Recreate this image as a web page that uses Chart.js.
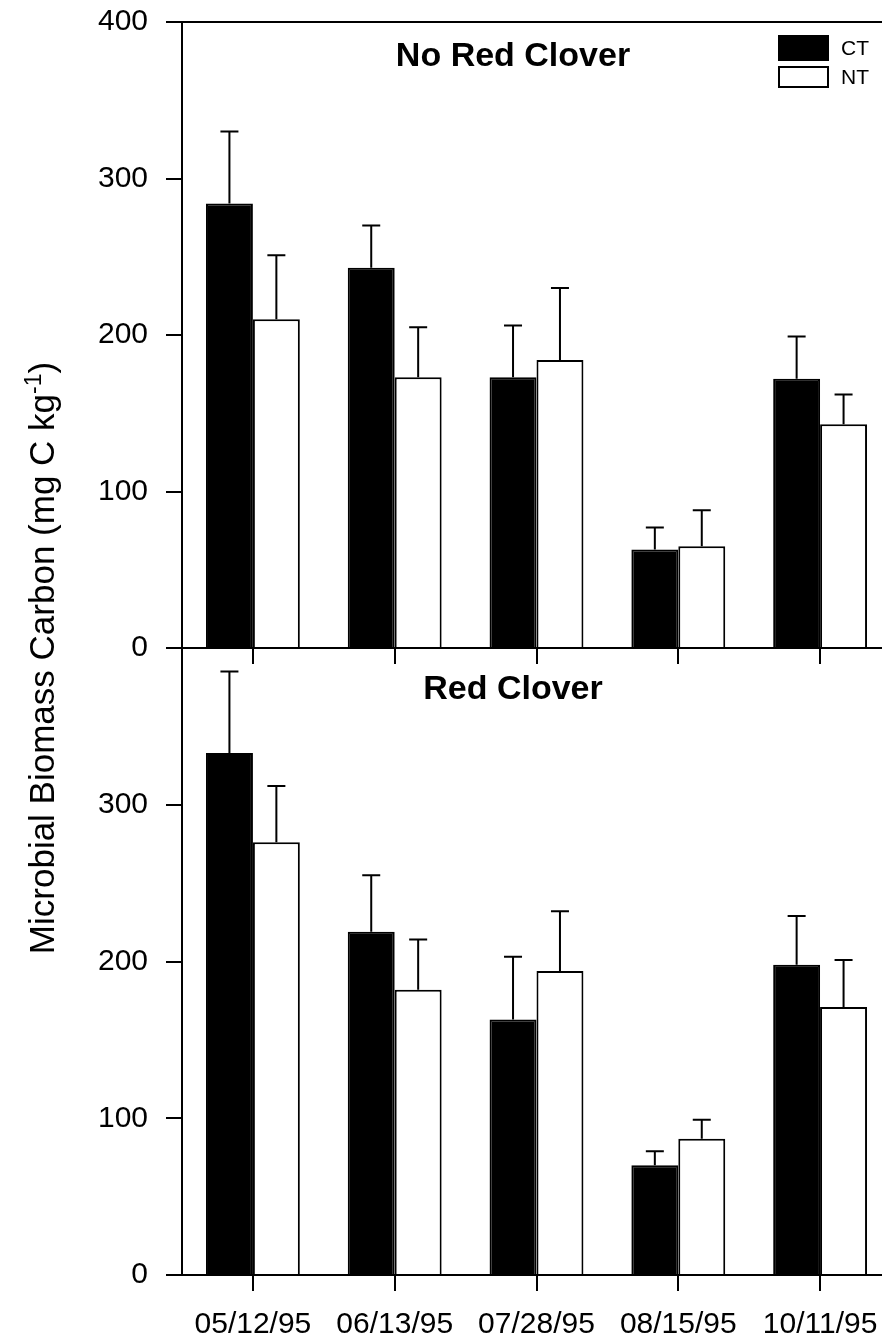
<!DOCTYPE html>
<html>
<head>
<meta charset="utf-8">
<script src="https://cdn.jsdelivr.net/npm/chart.js@4/dist/chart.umd.min.js"></script>
<style>
  html, body { margin: 0; padding: 0; background: #fff; overflow: hidden; }
  #wrap { position: relative; width: 882px; height: 1342px; overflow: hidden; }
  .panel { position: absolute; left: 0; width: 891px; }
  #ytitle {
    position: absolute; left: -308px; top: 638px; width: 700px; height: 40px;
    text-align: center; transform: rotate(-90deg); transform-origin: 50% 50%;
    font: 35px "Liberation Sans", Arial, sans-serif; line-height: 40px; color: #000;
    white-space: nowrap;
  }
  #ytitle sup { font-size: 23px; line-height: 0; }
</style>
</head>
<body>
<div id="wrap">
  <div class="panel" style="top:0;height:680px"><canvas id="chart-top"></canvas></div>
  <div class="panel" style="top:628px;height:714px"><canvas id="chart-bot"></canvas></div>
  <div id="ytitle">Microbial Biomass Carbon (mg C kg<sup>-1</sup>)</div>
</div>
<script>
// ── Mikrobiologiczny węgiel biomasy: CT vs NT, bez koniczyny / z koniczyną ──
const DATES = ['05/12/95', '06/13/95', '07/28/95', '08/15/95', '10/11/95'];
const Y_TICKS = [0, 100, 200, 300, 400];

// panel górny – "No Red Clover"
const NORC_CT     = [284, 243, 173, 63, 172];
const NORC_CT_ERR = [46, 27, 33, 14, 27];
const NORC_NT     = [210, 173, 184, 65, 143];
const NORC_NT_ERR = [41, 32, 46, 23, 19];

// panel dolny – "Red Clover"
const RC_CT     = [333, 219, 163, 70, 198];
const RC_CT_ERR = [52, 36, 40, 9, 31];
const RC_NT     = [276, 182, 194, 87, 171];
const RC_NT_ERR = [36, 32, 38, 12, 30];

Chart.defaults.font.family = "'Liberation Sans', Arial, sans-serif";
Chart.defaults.color = '#000';

// słupki błędu: tylko górne wąsy z poprzeczką
const errorBars = {
  id: 'errorBars',
  afterDatasetsDraw(chart) {
    const { ctx } = chart;
    const y = chart.scales.y;
    ctx.save();
    ctx.strokeStyle = '#000';
    ctx.lineWidth = 2;
    chart.data.datasets.forEach((ds, di) => {
      chart.getDatasetMeta(di).data.forEach((bar, i) => {
        const top = y.getPixelForValue(ds.data[i] + ds.err[i]);
        ctx.beginPath();
        ctx.moveTo(bar.x, bar.y);
        ctx.lineTo(bar.x, top);
        ctx.moveTo(bar.x - 9, top);
        ctx.lineTo(bar.x + 9, top);
        ctx.stroke();
      });
    });
    ctx.restore();
  },
};

// tytuł panelu w obszarze wykresu + legenda (tylko panel górny)
const panelDeco = {
  id: 'panelDeco',
  afterDraw(chart, args, opts) {
    const { ctx, chartArea } = chart;
    ctx.save();
    ctx.fillStyle = '#000';
    ctx.font = "bold 34px 'Liberation Sans', Arial, sans-serif";
    ctx.textAlign = 'center';
    ctx.textBaseline = 'middle';
    ctx.fillText(opts.title, 513, chartArea.top + opts.titleOffset);
    if (opts.legend) {
      ctx.font = "21px 'Liberation Sans', Arial, sans-serif";
      ctx.textAlign = 'left';
      chart.data.datasets.forEach((ds, i) => {
        const by = 35 + i * 31;
        const bh = i === 0 ? 26 : 22;
        ctx.fillStyle = ds.backgroundColor;
        ctx.fillRect(778, by, 51, bh);
        ctx.strokeStyle = '#000';
        ctx.lineWidth = 2;
        ctx.strokeRect(779, by + 1, 49, bh - 2);
        ctx.fillStyle = '#000';
        ctx.fillText(ds.label, 841, by + bh / 2 + 1);
      });
    }
    ctx.restore();
  },
};

function makePanel(canvasId, ct, ctErr, nt, ntErr, title, isBottom) {
  return new Chart(document.getElementById(canvasId), {
    type: 'bar',
    data: {
      labels: DATES,
      datasets: [
        { label: 'CT', data: ct, err: ctErr, backgroundColor: '#000', borderColor: '#000', borderWidth: 2 },
        { label: 'NT', data: nt, err: ntErr, backgroundColor: '#fff', borderColor: '#000', borderWidth: 2 },
      ],
    },
    options: {
      responsive: true,
      maintainAspectRatio: false,
      animation: false,
      datasets: { bar: { categoryPercentage: 0.662, barPercentage: 1.0 } },
      layout: { padding: { top: isBottom ? 20 : 22, left: 0, right: 0, bottom: 0 } },
      plugins: {
        legend: { display: false },
        tooltip: { enabled: false },
        panelDeco: { title, titleOffset: isBottom ? 42 : 35, legend: !isBottom },
      },
      scales: {
        x: {
          offset: true,
          grid: { offset: false, drawOnChartArea: false, drawTicks: true, tickLength: 16, color: '#000', lineWidth: 2 },
          border: { display: true, color: '#000', width: 2 },
          ticks: { display: isBottom, padding: 16, font: { size: 30 }, color: '#000', maxRotation: 0, autoSkip: false },
          afterFit: s => {
            s.height = isBottom ? 67 : 32;
            s.paddingLeft = 0;
            s.paddingRight = 0;
          },
        },
        y: {
          min: 0, max: 400,
          afterBuildTicks: s => { s.ticks = Y_TICKS.map(v => ({ value: v })); },
          grid: {
            drawOnChartArea: true, tickLength: 16, lineWidth: 2, tickColor: '#000',
            color: c => (c.tick && c.tick.value === 400 ? '#000' : 'rgba(0,0,0,0)'),
          },
          border: { display: true, color: '#000', width: 2 },
          ticks: {
            padding: 18, font: { size: 30 }, color: '#000',
            callback: v => (isBottom && v === 400 ? '' : v),
          },
          afterFit: s => {
            s.width = 182;
            s.paddingTop = 0;
            s.paddingBottom = 0;
          },
        },
      },
    },
    plugins: [errorBars, panelDeco],
  });
}

makePanel('chart-top', NORC_CT, NORC_CT_ERR, NORC_NT, NORC_NT_ERR, 'No Red Clover', false);
makePanel('chart-bot', RC_CT, RC_CT_ERR, RC_NT, RC_NT_ERR, 'Red Clover', true);
</script>
</body>
</html>
